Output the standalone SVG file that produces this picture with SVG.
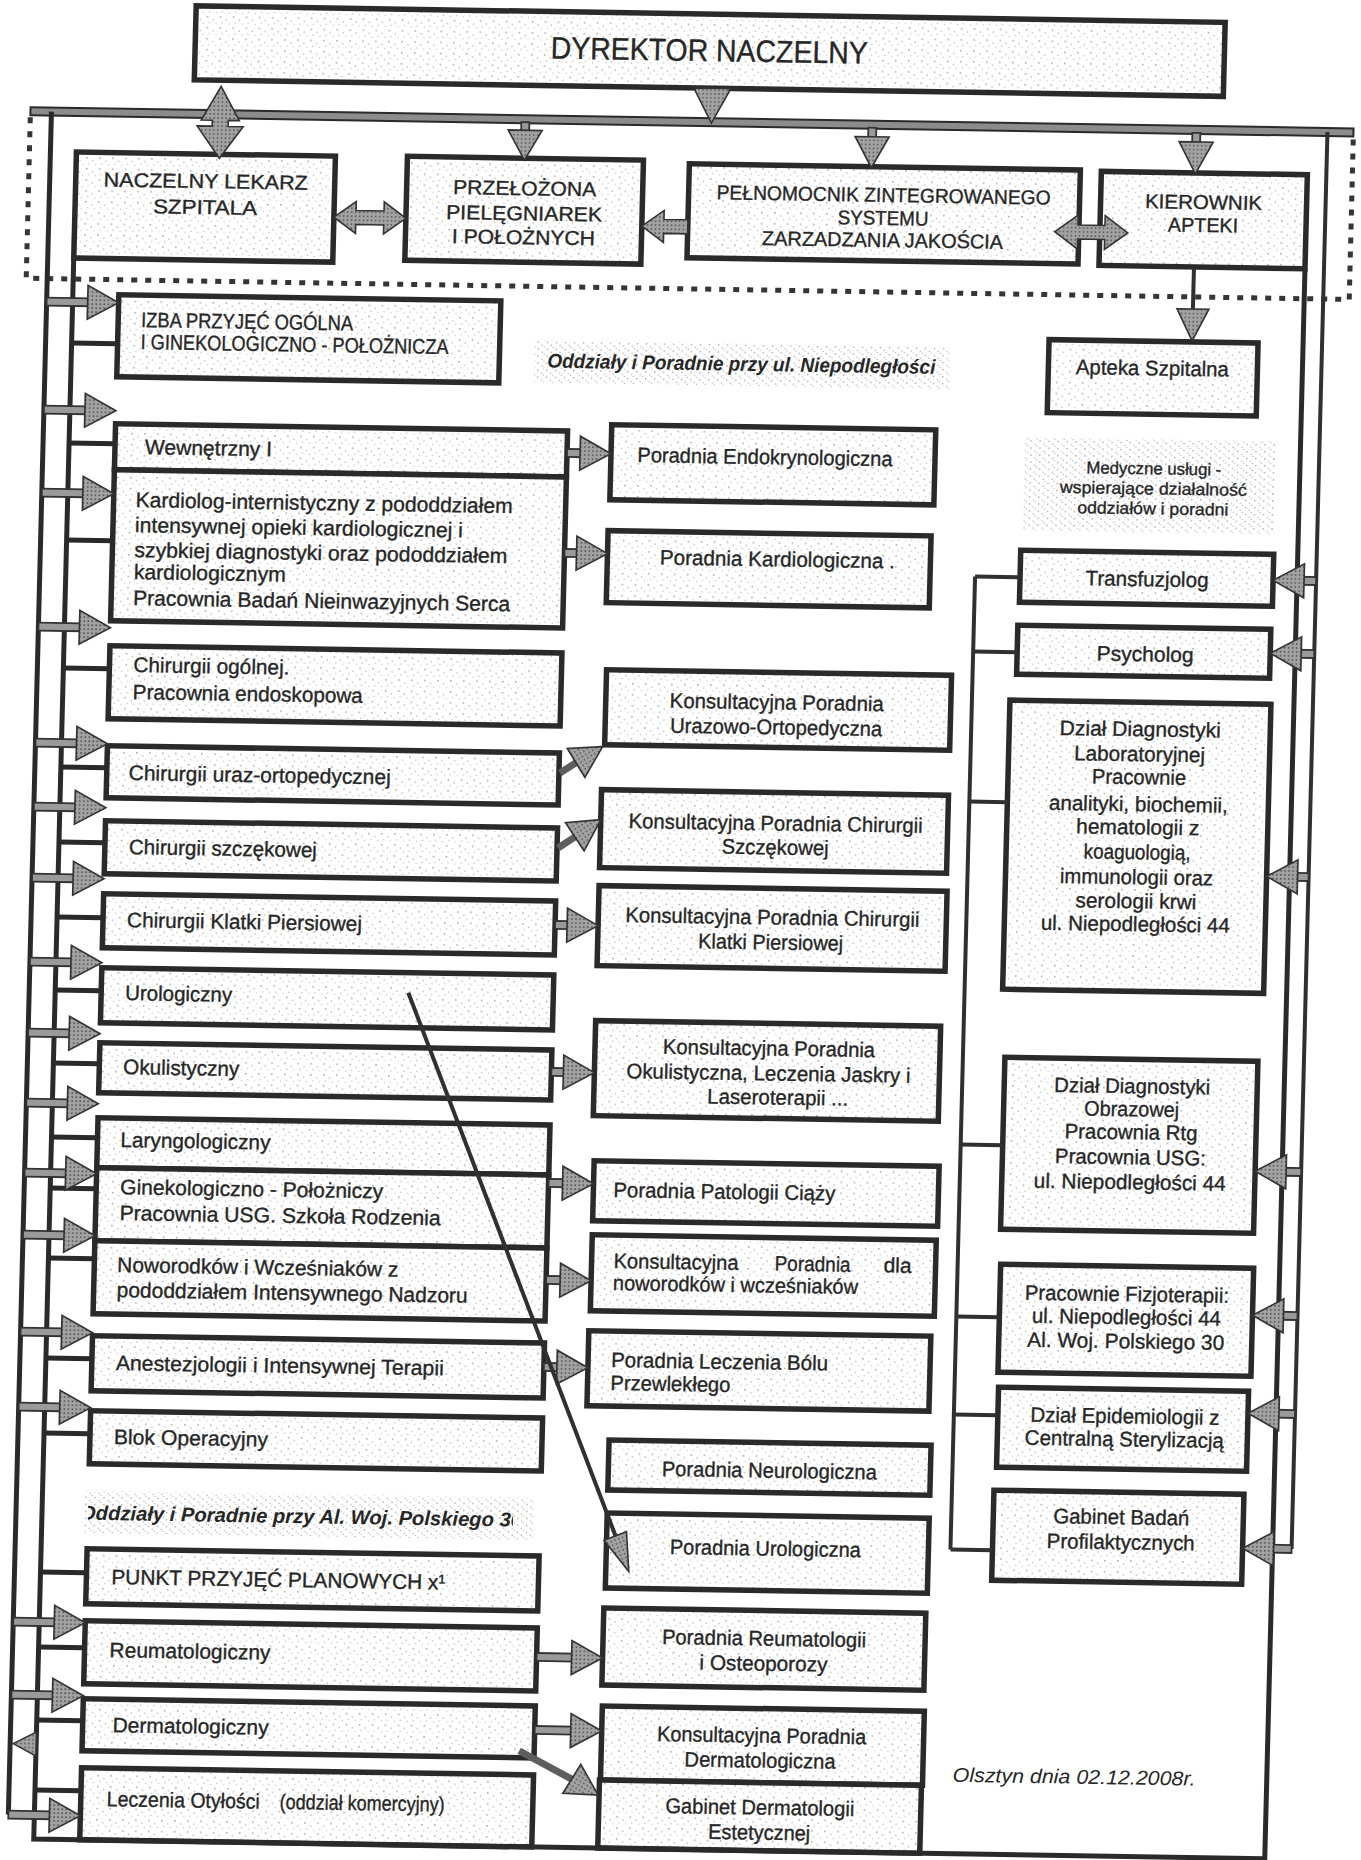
<svg xmlns="http://www.w3.org/2000/svg" width="1361" height="1860" viewBox="0 0 1361 1860">
<defs>
<pattern id="stip" width="13" height="11" patternUnits="userSpaceOnUse">
<rect width="13" height="11" fill="#fff"/>
<rect x="2" y="2" width="1.3" height="1.3" fill="#8a8a8a"/>
<rect x="8" y="5" width="1.2" height="1.2" fill="#a5a5a5"/>
<rect x="4" y="8" width="1" height="1" fill="#9a9a9a"/>
<rect x="11" y="9" width="1" height="1" fill="#b0b0b0"/>
</pattern>
<pattern id="stip2" width="9" height="7" patternUnits="userSpaceOnUse">
<rect width="9" height="7" fill="#fff"/>
<rect x="1" y="1" width="1.3" height="1.3" fill="#9a9a9a"/>
<rect x="5" y="4" width="1.2" height="1.2" fill="#b0b0b0"/>
<rect x="7" y="6" width="1" height="1" fill="#a0a0a0"/>
</pattern>
<pattern id="astip" width="4" height="4" patternUnits="userSpaceOnUse">
<rect width="4" height="4" fill="#a2a2a2"/>
<rect x="1" y="1" width="1.5" height="1.5" fill="#505050"/>
</pattern>
<polygon id="ah" points="0,0 -31,-17 -31,17"/>
<polygon id="ahs" points="0,0 -38,-12 -38,12"/>
<clipPath id="clipH2"><rect x="103" y="1498" width="425" height="44"/></clipPath>
</defs>
<style>
.box{fill:url(#stip);stroke:#2a2a2a;stroke-width:5.5}
.bg{fill:url(#stip2)}
.sh{fill:#9a9a9a;stroke:#333;stroke-width:1.8}
.ah{fill:url(#astip);stroke:#333;stroke-width:1.6}
.ln{fill:none;stroke:#2a2a2a;stroke-width:5}
.lt{fill:none;stroke:#303030;stroke-width:4}
.dsh{fill:none;stroke:#5e5e5e;stroke-width:7}
.dot{fill:none;stroke:#353535;stroke-width:5;stroke-dasharray:6 8}
text{font-family:"Liberation Sans",Arial,sans-serif;fill:#262626;stroke:#262626;stroke-width:0.35}
.t{font-size:21px}
.c{text-anchor:middle}
.u{font-size:20px}
.s{font-size:17px}
.h{font-size:20px;font-weight:bold;font-style:italic;stroke-width:0}
.i{font-size:20px;font-style:italic;stroke-width:0}
</style>
<rect width="1361" height="1860" fill="#fff"/>
<g transform="matrix(1 0.016 -0.0253 1 23.53 -10.9)">

<g id="dyrektor"><rect class="box" x="173" y="14" width="1029" height="74"/>
<text class="c" x="687" y="61" font-size="31" textLength="317" lengthAdjust="spacingAndGlyphs">DYREKTOR NACZELNY</text></g>

<g id="naczelny-lekarz"><rect class="box" x="57" y="162" width="259" height="106"/>
<text class="u c" x="187" y="196" textLength="204" lengthAdjust="spacingAndGlyphs">NACZELNY LEKARZ</text>
<text class="u c" x="187" y="222" textLength="104" lengthAdjust="spacingAndGlyphs">SZPITALA</text></g>

<g id="przelozona"><rect class="box" x="388" y="161" width="236" height="104"/>
<text class="u c" x="506" y="198" textLength="143" lengthAdjust="spacingAndGlyphs">PRZEŁOŻONA</text>
<text class="u c" x="506" y="223" textLength="156" lengthAdjust="spacingAndGlyphs">PIELĘGNIAREK</text>
<text class="u c" x="506" y="247" textLength="143" lengthAdjust="spacingAndGlyphs">I POŁOŻNYCH</text></g>

<g id="pelnomocnik"><rect class="box" x="670" y="164" width="391" height="94"/>
<text class="u c" x="865" y="199" textLength="334" lengthAdjust="spacingAndGlyphs">PEŁNOMOCNIK ZINTEGROWANEGO</text>
<text class="u c" x="865" y="222" textLength="91" lengthAdjust="spacingAndGlyphs">SYSTEMU</text>
<text class="u c" x="865" y="244" textLength="241" lengthAdjust="spacingAndGlyphs">ZARZADZANIA JAKOŚCIA</text></g>

<g id="kierownik"><rect class="box" x="1082" y="165" width="206" height="94"/>
<text class="u c" x="1185" y="201" textLength="117" lengthAdjust="spacingAndGlyphs">KIEROWNIK</text>
<text class="u c" x="1185" y="224" textLength="70" lengthAdjust="spacingAndGlyphs">APTEKI</text></g>

<g id="apteka"><rect class="box" x="1034" y="334" width="209" height="73"/>
<text class="t c" x="1138" y="368" textLength="153" lengthAdjust="spacingAndGlyphs">Apteka Szpitalna</text></g>

<g id="medyczne"><rect class="bg" x="1011" y="432" width="253" height="93"/>
<text class="s c" x="1142" y="467" textLength="135" lengthAdjust="spacingAndGlyphs">Medyczne usługi -</text>
<text class="s c" x="1142" y="487" textLength="187" lengthAdjust="spacingAndGlyphs">wspierające działalność</text>
<text class="s c" x="1142" y="507" textLength="151" lengthAdjust="spacingAndGlyphs">oddziałów i poradni</text></g>

<g id="naglowek-1"><rect class="bg" x="520" y="343" width="415" height="42"/>
<text class="h" x="533" y="370" textLength="388" lengthAdjust="spacingAndGlyphs">Oddziały i Poradnie przy ul. Niepodległości</text></g>

<g id="izba"><rect class="box" x="103" y="304" width="382" height="82"/>
<text class="t" x="126" y="336" font-size="19" textLength="212" lengthAdjust="spacingAndGlyphs">IZBA PRZYJĘĆ OGÓLNA</text>
<text class="t" x="126" y="358" font-size="19" textLength="308" lengthAdjust="spacingAndGlyphs">I GINEKOLOGICZNO - POŁOŻNICZA</text></g>

<g id="wewnetrzny"><rect class="box" x="103" y="433" width="452" height="46"/>
<text class="t" x="133" y="463" textLength="127" lengthAdjust="spacingAndGlyphs">Wewnętrzny I</text></g>

<g id="kardiolog"><rect class="box" x="103" y="479" width="452" height="151"/>
<text class="t" x="125" y="516" textLength="377" lengthAdjust="spacingAndGlyphs">Kardiolog-internistyczny z pododdziałem</text>
<text class="t" x="125" y="541" textLength="328" lengthAdjust="spacingAndGlyphs">intensywnej opieki kardiologicznej i</text>
<text class="t" x="125" y="566" textLength="373" lengthAdjust="spacingAndGlyphs">szybkiej diagnostyki oraz pododdziałem</text>
<text class="t" x="125" y="588" textLength="152" lengthAdjust="spacingAndGlyphs">kardiologicznym</text>
<text class="t" x="125" y="614" textLength="377" lengthAdjust="spacingAndGlyphs">Pracownia Badań Nieinwazyjnych Serca</text></g>

<g id="chirurgii-ogolnej"><rect class="box" x="103" y="655" width="452" height="73"/>
<text class="t" x="127" y="681" textLength="156" lengthAdjust="spacingAndGlyphs">Chirurgii ogólnej.</text>
<text class="t" x="127" y="708" textLength="230" lengthAdjust="spacingAndGlyphs">Pracownia endoskopowa</text></g>

<g id="chirurgii-uraz"><rect class="box" x="103" y="755" width="452" height="52"/>
<text class="t" x="125" y="789" textLength="262" lengthAdjust="spacingAndGlyphs">Chirurgii uraz-ortopedycznej</text></g>

<g id="chirurgii-szczekowej"><rect class="box" x="103" y="830" width="452" height="53"/>
<text class="t" x="127" y="863" textLength="188" lengthAdjust="spacingAndGlyphs">Chirurgii szczękowej</text></g>

<g id="chirurgii-klatki"><rect class="box" x="103" y="903" width="452" height="54"/>
<text class="t" x="127" y="936" textLength="235" lengthAdjust="spacingAndGlyphs">Chirurgii Klatki Piersiowej</text></g>

<g id="urologiczny"><rect class="box" x="103" y="977" width="452" height="55"/>
<text class="t" x="127" y="1009" textLength="107" lengthAdjust="spacingAndGlyphs">Urologiczny</text></g>

<g id="okulistyczny"><rect class="box" x="103" y="1052" width="452" height="50"/>
<text class="t" x="127" y="1083" textLength="116" lengthAdjust="spacingAndGlyphs">Okulistyczny</text></g>

<g id="laryngologiczny"><rect class="box" x="103" y="1127" width="452" height="50"/>
<text class="t" x="126" y="1156" textLength="150" lengthAdjust="spacingAndGlyphs">Laryngologiczny</text></g>

<g id="ginekologiczno"><rect class="box" x="103" y="1177" width="452" height="73"/>
<text class="t" x="127" y="1203" textLength="263" lengthAdjust="spacingAndGlyphs">Ginekologiczno - Położniczy</text>
<text class="t" x="127" y="1229" textLength="321" lengthAdjust="spacingAndGlyphs">Pracownia USG. Szkoła Rodzenia</text></g>

<g id="noworodkow"><rect class="box" x="103" y="1250" width="452" height="73"/>
<text class="t" x="126" y="1281" textLength="281" lengthAdjust="spacingAndGlyphs">Noworodków i Wcześniaków z</text>
<text class="t" x="126" y="1306" textLength="351" lengthAdjust="spacingAndGlyphs">pododdziałem Intensywnego Nadzoru</text></g>

<g id="anestezjologii"><rect class="box" x="103" y="1345" width="452" height="55"/>
<text class="t" x="127" y="1379" textLength="328" lengthAdjust="spacingAndGlyphs">Anestezjologii i Intensywnej Terapii</text></g>

<g id="blok"><rect class="box" x="103" y="1420" width="452" height="53"/>
<text class="t" x="127" y="1453" textLength="154" lengthAdjust="spacingAndGlyphs">Blok Operacyjny</text></g>

<g id="naglowek-2"><rect class="bg" x="98" y="1500" width="450" height="42"/>
<text class="h" x="95" y="1529" textLength="442" lengthAdjust="spacingAndGlyphs" clip-path="url(#clipH2)">Oddziały i Poradnie przy Al. Woj. Polskiego 30</text></g>

<g id="punkt"><rect class="box" x="103" y="1558" width="452" height="55"/>
<text class="t" x="128" y="1593" textLength="334" lengthAdjust="spacingAndGlyphs">PUNKT PRZYJĘĆ PLANOWYCH x¹</text></g>

<g id="reumatologiczny"><rect class="box" x="103" y="1630" width="452" height="63"/>
<text class="t" x="128" y="1666" textLength="161" lengthAdjust="spacingAndGlyphs">Reumatologiczny</text></g>

<g id="dermatologiczny"><rect class="box" x="103" y="1708" width="452" height="52"/>
<text class="t" x="133" y="1741" textLength="156" lengthAdjust="spacingAndGlyphs">Dermatologiczny</text></g>

<g id="leczenia-otylosci"><rect class="box" x="103" y="1777" width="452" height="72"/>
<text class="t" x="129" y="1815" textLength="153" lengthAdjust="spacingAndGlyphs">Leczenia Otyłości</text>
<text class="t" x="302" y="1815" font-size="16" textLength="165" lengthAdjust="spacingAndGlyphs">(oddział komercyjny)</text></g>

<g id="p-endokrynologiczna"><rect class="box" x="599" y="426" width="324" height="75"/>
<text class="t c" x="753" y="463" textLength="255" lengthAdjust="spacingAndGlyphs">Poradnia Endokrynologiczna</text></g>

<g id="p-kardiologiczna"><rect class="box" x="598" y="532" width="323" height="72"/>
<text class="t c" x="768" y="565" textLength="235" lengthAdjust="spacingAndGlyphs">Poradnia Kardiologiczna .</text></g>

<g id="p-urazowo"><rect class="box" x="600" y="671" width="345" height="75"/>
<text class="t c" x="771" y="708" textLength="214" lengthAdjust="spacingAndGlyphs">Konsultacyjna Poradnia</text>
<text class="t c" x="771" y="733" textLength="212" lengthAdjust="spacingAndGlyphs">Urazowo-Ortopedyczna</text></g>

<g id="p-szczekowej"><rect class="box" x="598" y="791" width="347" height="78"/>
<text class="t c" x="773" y="829" textLength="294" lengthAdjust="spacingAndGlyphs">Konsultacyjna Poradnia Chirurgii</text>
<text class="t c" x="773" y="853" textLength="107" lengthAdjust="spacingAndGlyphs">Szczękowej</text></g>

<g id="p-klatki"><rect class="box" x="598" y="887" width="348" height="80"/>
<text class="t c" x="772" y="923" textLength="294" lengthAdjust="spacingAndGlyphs">Konsultacyjna Poradnia Chirurgii</text>
<text class="t c" x="771" y="948" textLength="145" lengthAdjust="spacingAndGlyphs">Klatki Piersiowej</text></g>

<g id="p-okulistyczna"><rect class="box" x="598" y="1022" width="345" height="95"/>
<text class="t c" x="772" y="1054" textLength="212" lengthAdjust="spacingAndGlyphs">Konsultacyjna Poradnia</text>
<text class="t c" x="772" y="1079" textLength="284" lengthAdjust="spacingAndGlyphs">Okulistyczna, Leczenia Jaskry i</text>
<text class="t c" x="782" y="1103" textLength="141" lengthAdjust="spacingAndGlyphs">Laseroterapii ...</text></g>

<g id="p-patologii"><rect class="box" x="600" y="1162" width="345" height="60"/>
<text class="t" x="620" y="1198" textLength="222" lengthAdjust="spacingAndGlyphs">Poradnia Patologii Ciąży</text></g>

<g id="p-noworodkow"><rect class="box" x="600" y="1236" width="344" height="76"/>
<text class="t" x="622" y="1269" textLength="125" lengthAdjust="spacingAndGlyphs">Konsultacyjna</text>
<text class="t" x="783" y="1269" textLength="76" lengthAdjust="spacingAndGlyphs">Poradnia</text>
<text class="t" x="892" y="1269" textLength="28" lengthAdjust="spacingAndGlyphs">dla</text>
<text class="t" x="622" y="1291" textLength="245" lengthAdjust="spacingAndGlyphs">noworodków i wcześniaków</text></g>

<g id="p-bolu"><rect class="box" x="599" y="1332" width="342" height="75"/>
<text class="t" x="622" y="1368" textLength="217" lengthAdjust="spacingAndGlyphs">Poradnia Leczenia  Bólu</text>
<text class="t" x="622" y="1391" textLength="120" lengthAdjust="spacingAndGlyphs">Przewlekłego</text></g>

<g id="p-neurologiczna"><rect class="box" x="622" y="1441" width="322" height="50"/>
<text class="t c" x="783" y="1476" textLength="215" lengthAdjust="spacingAndGlyphs">Poradnia Neurologiczna</text></g>

<g id="p-urologiczna"><rect class="box" x="622" y="1514" width="322" height="75"/>
<text class="t c" x="781" y="1554" textLength="191" lengthAdjust="spacingAndGlyphs">Poradnia Urologiczna</text></g>

<g id="p-reumatologii"><rect class="box" x="621" y="1609" width="322" height="77"/>
<text class="t c" x="782" y="1644" textLength="204" lengthAdjust="spacingAndGlyphs">Poradnia Reumatologii</text>
<text class="t c" x="782" y="1669" textLength="128" lengthAdjust="spacingAndGlyphs">i Osteoporozy</text></g>

<g id="p-dermatologiczna"><rect class="box" x="622" y="1707" width="322" height="74"/>
<text class="t c" x="782" y="1741" textLength="209" lengthAdjust="spacingAndGlyphs">Konsultacyjna Poradnia</text>
<text class="t c" x="781" y="1766" textLength="151" lengthAdjust="spacingAndGlyphs">Dermatologiczna</text></g>

<g id="gabinet-dermatologii"><rect class="box" x="621" y="1781" width="322" height="68"/>
<text class="t c" x="782" y="1813" textLength="189" lengthAdjust="spacingAndGlyphs">Gabinet Dermatologii</text>
<text class="t c" x="782" y="1838" textLength="102" lengthAdjust="spacingAndGlyphs">Estetycznej</text></g>

<g id="transfuzjolog"><rect class="box" x="1011" y="545" width="253" height="52"/>
<text class="t c" x="1138" y="579" textLength="123" lengthAdjust="spacingAndGlyphs">Transfuzjolog</text></g>

<g id="psycholog"><rect class="box" x="1010" y="620" width="253" height="49"/>
<text class="t c" x="1138" y="654" textLength="97" lengthAdjust="spacingAndGlyphs">Psycholog</text></g>

<g id="dzial-laboratoryjnej"><rect class="box" x="1004" y="695" width="261" height="289"/>
<text class="t c" x="1135" y="729" textLength="161" lengthAdjust="spacingAndGlyphs">Dział Diagnostyki</text>
<text class="t c" x="1135" y="754" textLength="131" lengthAdjust="spacingAndGlyphs">Laboratoryjnej</text>
<text class="t c" x="1135" y="777" textLength="94" lengthAdjust="spacingAndGlyphs">Pracownie</text>
<text class="t c" x="1135" y="804" textLength="179" lengthAdjust="spacingAndGlyphs">analityki, biochemii,</text>
<text class="t c" x="1135" y="827" textLength="123" lengthAdjust="spacingAndGlyphs">hematologii z</text>
<text class="t c" x="1135" y="852" textLength="107" lengthAdjust="spacingAndGlyphs">koaguologią,</text>
<text class="t c" x="1135" y="877" textLength="153" lengthAdjust="spacingAndGlyphs">immunologii oraz</text>
<text class="t c" x="1135" y="901" textLength="121" lengthAdjust="spacingAndGlyphs">serologii krwi</text>
<text class="t c" x="1135" y="924" textLength="189" lengthAdjust="spacingAndGlyphs">ul. Niepodległości 44</text></g>

<g id="dzial-obrazowej"><rect class="box" x="1008" y="1052" width="253" height="172"/>
<text class="t c" x="1136" y="1086" textLength="156" lengthAdjust="spacingAndGlyphs">Dział Diagnostyki</text>
<text class="t c" x="1136" y="1109" textLength="95" lengthAdjust="spacingAndGlyphs">Obrazowej</text>
<text class="t c" x="1136" y="1132" textLength="133" lengthAdjust="spacingAndGlyphs">Pracownia Rtg</text>
<text class="t c" x="1136" y="1157" textLength="151" lengthAdjust="spacingAndGlyphs">Pracownia USG:</text>
<text class="t c" x="1136" y="1182" textLength="192" lengthAdjust="spacingAndGlyphs">ul. Niepodległości 44</text></g>

<g id="fizjoterapia"><rect class="box" x="1009" y="1259" width="253" height="108"/>
<text class="t c" x="1136" y="1294" textLength="204" lengthAdjust="spacingAndGlyphs">Pracownie Fizjoterapii:</text>
<text class="t c" x="1136" y="1317" textLength="189" lengthAdjust="spacingAndGlyphs">ul. Niepodległości 44</text>
<text class="t c" x="1136" y="1341" textLength="197" lengthAdjust="spacingAndGlyphs">Al. Woj. Polskiego 30</text></g>

<g id="epidemiologia"><rect class="box" x="1010" y="1382" width="250" height="80"/>
<text class="t c" x="1137" y="1416" textLength="189" lengthAdjust="spacingAndGlyphs">Dział Epidemiologii z</text>
<text class="t c" x="1137" y="1439" textLength="199" lengthAdjust="spacingAndGlyphs">Centralną Sterylizacją</text></g>

<g id="gabinet-badan"><rect class="box" x="1008" y="1485" width="250" height="90"/>
<text class="t c" x="1136" y="1517" textLength="136" lengthAdjust="spacingAndGlyphs">Gabinet Badań</text>
<text class="t c" x="1136" y="1542" textLength="148" lengthAdjust="spacingAndGlyphs">Profilaktycznych</text></g>

<g id="data"><text class="i" x="974" y="1777" textLength="243" lengthAdjust="spacingAndGlyphs">Olsztyn dnia 02.12.2008r.</text></g>

<g id="connectors">
<rect x="10" y="118" width="1323" height="8" fill="#8c8c8c" stroke="#2a2a2a" stroke-width="2"/>
<path class="dot" d="M10,128 V289 H1333 V128"/>
<path class="ln" d="M31,122 V1825"/>
<path class="ln" d="M57,268 V1849 H1288 V259"/>
<path class="lt" d="M1307,122 V1539"/>
<path class="lt" d="M966,572 V1545"/>
<path class="ln" d="M57,353H103M57,453H103M57,550H103M57,678H103M57,777H103M57,852H103M57,927H103M57,1000H103M57,1073H103M57,1147H103M57,1198H103M57,1268H103M57,1368H103M57,1443H103M57,1582H103M57,1657H103M57,1730H103M57,1800H103"/>
<path class="lt" d="M966,572H1011M966,647H1010M966,797H1004M966,1140H1008M966,1312H1009M966,1410H1010M966,1545H1008"/>
<polygon class="ah" points="674,88 708,88 708,91 691,123 674,91"/>
<polygon class="ah" points="200,94 219,128 208,128 208,134 223,134 200,166 177,134 192,134 192,128 181,128"/>
<rect class="sh" x="501" y="125" width="8" height="9"/>
<polygon class="ah" points="488,133 522,133 505,163"/>
<rect class="sh" x="848" y="125" width="8" height="10"/>
<polygon class="ah" points="835,134 869,134 852,165"/>
<rect class="sh" x="1172" y="125" width="8" height="10"/>
<polygon class="ah" points="1159,134 1193,134 1176,166"/>
<polygon class="ah" points="316,223 338,207 338,216 366,216 366,207 388,223 366,239 366,230 338,230 338,239"/>
<polygon class="ah" points="624,227 646,211 646,220 670,220 670,234 646,234 646,243"/>
<polygon class="ah" points="1037,226 1060,209 1060,219 1087,219 1087,209 1110,226 1087,243 1087,233 1060,233 1060,243"/>
<path class="lt" d="M1177,261 V304"/>
<polygon class="ah" points="1161,301 1193,301 1177,333"/>
<g>
<rect class="sh" x="31" y="308" width="43" height="8"/><use href="#ah" class="ah" transform="translate(103,312)"/>
<rect class="sh" x="31" y="416" width="43" height="8"/><use href="#ah" class="ah" transform="translate(103,420)"/>
<rect class="sh" x="31" y="499" width="43" height="8"/><use href="#ah" class="ah" transform="translate(103,503)"/>
<rect class="sh" x="31" y="633" width="43" height="8"/><use href="#ah" class="ah" transform="translate(103,637)"/>
<rect class="sh" x="31" y="749" width="43" height="8"/><use href="#ah" class="ah" transform="translate(103,753)"/>
<rect class="sh" x="31" y="813" width="43" height="8"/><use href="#ah" class="ah" transform="translate(103,817)"/>
<rect class="sh" x="31" y="884" width="43" height="8"/><use href="#ah" class="ah" transform="translate(103,888)"/>
<rect class="sh" x="31" y="968" width="43" height="8"/><use href="#ah" class="ah" transform="translate(103,972)"/>
<rect class="sh" x="31" y="1039" width="43" height="8"/><use href="#ah" class="ah" transform="translate(103,1043)"/>
<rect class="sh" x="31" y="1109" width="43" height="8"/><use href="#ah" class="ah" transform="translate(103,1113)"/>
<rect class="sh" x="31" y="1179" width="43" height="8"/><use href="#ah" class="ah" transform="translate(103,1183)"/>
<rect class="sh" x="31" y="1241" width="43" height="8"/><use href="#ah" class="ah" transform="translate(103,1245)"/>
<rect class="sh" x="31" y="1338" width="43" height="8"/><use href="#ah" class="ah" transform="translate(103,1342)"/>
<rect class="sh" x="31" y="1413" width="43" height="8"/><use href="#ah" class="ah" transform="translate(103,1417)"/>
<rect class="sh" x="31" y="1628" width="43" height="8"/><use href="#ah" class="ah" transform="translate(103,1632)"/>
<rect class="sh" x="31" y="1701" width="43" height="8"/><use href="#ah" class="ah" transform="translate(103,1705)"/>
<rect class="sh" x="31" y="1821" width="43" height="8"/><use href="#ah" class="ah" transform="translate(103,1825)"/>
<polygon class="ah" points="34,1754 57,1742 57,1766"/>
</g>
<g>
<rect class="sh" x="555" y="451" width="15" height="8"/><use href="#ah" class="ah" transform="translate(599,455)"/>
<rect class="sh" x="555" y="551" width="14" height="8"/><use href="#ah" class="ah" transform="translate(598,555)"/>
<rect class="sh" x="555" y="923" width="14" height="8"/><use href="#ah" class="ah" transform="translate(598,927)"/>
<rect class="sh" x="555" y="1070" width="14" height="8"/><use href="#ah" class="ah" transform="translate(598,1074)"/>
<rect class="sh" x="555" y="1181" width="16" height="8"/><use href="#ah" class="ah" transform="translate(600,1185)"/>
<rect class="sh" x="555" y="1278" width="16" height="8"/><use href="#ah" class="ah" transform="translate(600,1282)"/>
<rect class="sh" x="555" y="1365" width="15" height="8"/><use href="#ah" class="ah" transform="translate(599,1369)"/>
<rect class="sh" x="555" y="1655" width="37" height="8"/><use href="#ah" class="ah" transform="translate(621,1659)"/>
<rect class="sh" x="555" y="1728" width="38" height="8"/><use href="#ah" class="ah" transform="translate(622,1732)"/>
<path class="dsh" d="M556,775 L574,763"/><use href="#ah" class="ah" transform="translate(598,748) rotate(-32.7)"/>
<path class="dsh" d="M556,850 L575,837"/><use href="#ah" class="ah" transform="translate(598,821) rotate(-34.6)"/>
<path class="dsh" d="M540,1753 L596,1782"/><use href="#ah" class="ah" transform="translate(620,1796) rotate(30.5)"/>
<path class="lt" d="M410,997 L631,1537"/><use href="#ahs" class="ah" transform="translate(645,1572) rotate(67.8)"/>
</g>
<g>
<rect class="sh" x="1293" y="567" width="14" height="8"/><use href="#ah" class="ah" transform="translate(1264,571) rotate(180)"/>
<rect class="sh" x="1292" y="640" width="15" height="8"/><use href="#ah" class="ah" transform="translate(1263,644) rotate(180)"/>
<rect class="sh" x="1294" y="863" width="13" height="8"/><use href="#ah" class="ah" transform="translate(1265,867) rotate(180)"/>
<rect class="sh" x="1290" y="1158" width="17" height="8"/><use href="#ah" class="ah" transform="translate(1261,1162) rotate(180)"/>
<rect class="sh" x="1291" y="1302" width="16" height="8"/><use href="#ah" class="ah" transform="translate(1262,1306) rotate(180)"/>
<rect class="sh" x="1289" y="1400" width="18" height="8"/><use href="#ah" class="ah" transform="translate(1260,1404) rotate(180)"/>
<rect class="sh" x="1287" y="1535" width="20" height="8"/><use href="#ah" class="ah" transform="translate(1258,1539) rotate(180)"/>
</g>
</g>
</g>
</svg>
